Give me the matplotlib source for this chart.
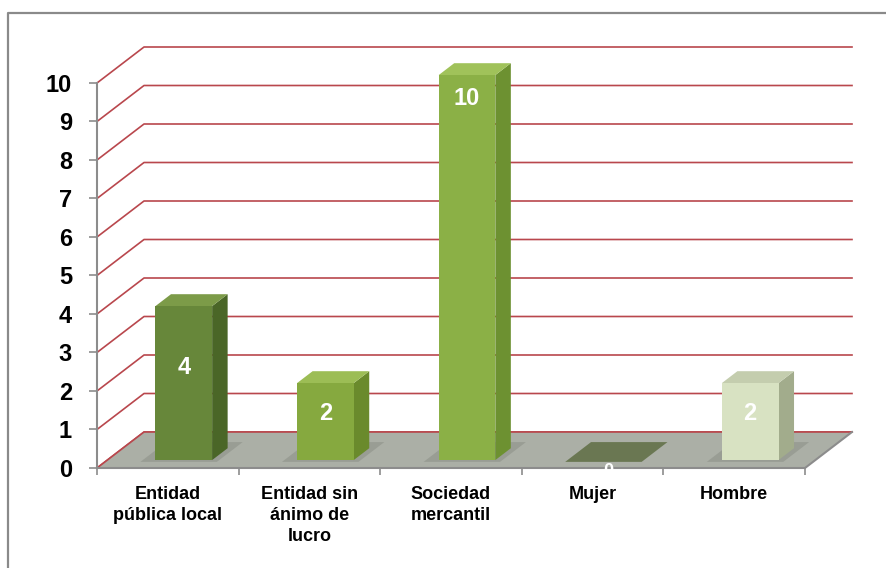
import matplotlib.pyplot as plt
from matplotlib.patches import Polygon
from matplotlib.lines import Line2D

plt.rcParams['font.family'] = ['Liberation Sans', 'DejaVu Sans']

categories = ['Entidad\npública local', 'Entidad sin\nánimo de\nlucro',
              'Sociedad\nmercantil', 'Mujer', 'Hombre']
values = [4, 2, 10, 0, 2]
front_colors = ['#67873a', '#86a93f', '#8bb046', '#5f6e44', '#d8e2c2']
side_colors = ['#4a6627', '#6a8a2c', '#6d9131', '#4c5a34', '#a2ac8c']
top_colors = ['#7c9b48', '#9cbd55', '#a0c25a', '#5f6e44', '#c4cdae']

# depth of the 3d box in data units
DX = 0.332
DY = 0.935
D0, D1 = 0.22, 0.55
BAR_W = 0.4
BAR_SHIFT = 0.04
n = len(categories)
ymax = 10


def p(x, y, d):
    return (x + d * DX, y + d * DY)


fig = plt.figure(figsize=(8.87, 5.68), dpi=100)
ax = fig.add_axes([97 / 887, 100 / 568, 755 / 887, 421 / 568])
ax.set_xlim(0, n + DX)
ax.set_ylim(0, ymax + DY)
for s in ax.spines.values():
    s.set_visible(False)
ax.patch.set_visible(False)

grid_c = '#b9474d'
axis_c = '#8c8c8c'

# walls gridlines
for v in range(0, ymax + 1):
    ax.plot([0, DX, n + DX], [v, v + DY, v + DY], color=grid_c, lw=1.2,
            zorder=1, clip_on=False)

# floor
floor = Polygon([p(0, 0, 0), p(n, 0, 0), p(n, 0, 1), p(0, 0, 1)],
                closed=True, facecolor='#abafa6', edgecolor='none', zorder=2)
ax.add_patch(floor)
ax.plot([0, DX, n + DX], [0, DY, DY], color=grid_c, lw=1.2, zorder=2.5)
ax.plot([0, n, n + DX], [0, 0, DY], color=axis_c, lw=1.5, zorder=3,
        clip_on=False)
ax.plot([0, 0], [0, ymax], color=axis_c, lw=1.5, zorder=3, clip_on=False)

for i, v in enumerate(values):
    xl = i + 0.5 + BAR_SHIFT - BAR_W / 2
    xr = xl + BAR_W
    # shadow on the floor
    sh_c = '#969a91' if v > 0 else front_colors[i]
    shadow = Polygon([p(xl - 0.09, 0, 0.17), p(xr + 0.05, 0, 0.17),
                      p(xr + 0.05, 0, 0.72), p(xl - 0.09, 0, 0.72)],
                     closed=True, facecolor=sh_c, edgecolor='none',
                     alpha=0.85, zorder=3)
    ax.add_patch(shadow)
    if v > 0:
        front = Polygon([p(xl, 0, D0), p(xr, 0, D0), p(xr, v, D0), p(xl, v, D0)],
                        closed=True, facecolor=front_colors[i], edgecolor='none',
                        zorder=5)
        side = Polygon([p(xr, 0, D0), p(xr, 0, D1), p(xr, v, D1), p(xr, v, D0)],
                       closed=True, facecolor=side_colors[i], edgecolor='none',
                       zorder=4)
        top = Polygon([p(xl, v, D0), p(xr, v, D0), p(xr, v, D1), p(xl, v, D1)],
                      closed=True, facecolor=top_colors[i], edgecolor='none',
                      zorder=4)
        for patch in (side, top, front):
            ax.add_patch(patch)
    if v >= 5:
        ly = v - 0.6
    elif v > 0:
        ly = 0.6 * v
    else:
        ly = -0.3
    lx, ly = p((xl + xr) / 2, ly, D0)
    ax.text(lx, ly, str(v), color='white', fontsize=17 if v > 0 else 13,
            fontweight='bold', ha='center', va='center', zorder=6,
            clip_on=False)

ax.set_yticks(range(0, ymax + 1))
ax.tick_params(axis='y', length=6, width=1.2, color=axis_c, pad=12,
               labelsize=17)
for t in ax.get_yticklabels():
    t.set_fontweight('bold')

ax.set_xticks(range(0, n + 1))
ax.set_xticklabels([''] * (n + 1))
ax.tick_params(axis='x', which='major', length=5, width=1.2, color=axis_c)
ax.set_xticks([i + 0.5 for i in range(n)], minor=True)
ax.set_xticklabels(categories, minor=True, fontsize=13, fontweight='bold',
                   linespacing=1.3)
ax.tick_params(axis='x', which='minor', length=0, pad=13)

fig.add_artist(Line2D([8 / 887, 8 / 887, 1], [0, 1 - 12.5 / 568, 1 - 12.5 / 568],
                      transform=fig.transFigure, color='#8a8a8a', lw=1.6))

fig.savefig('out.png', dpi=100)
